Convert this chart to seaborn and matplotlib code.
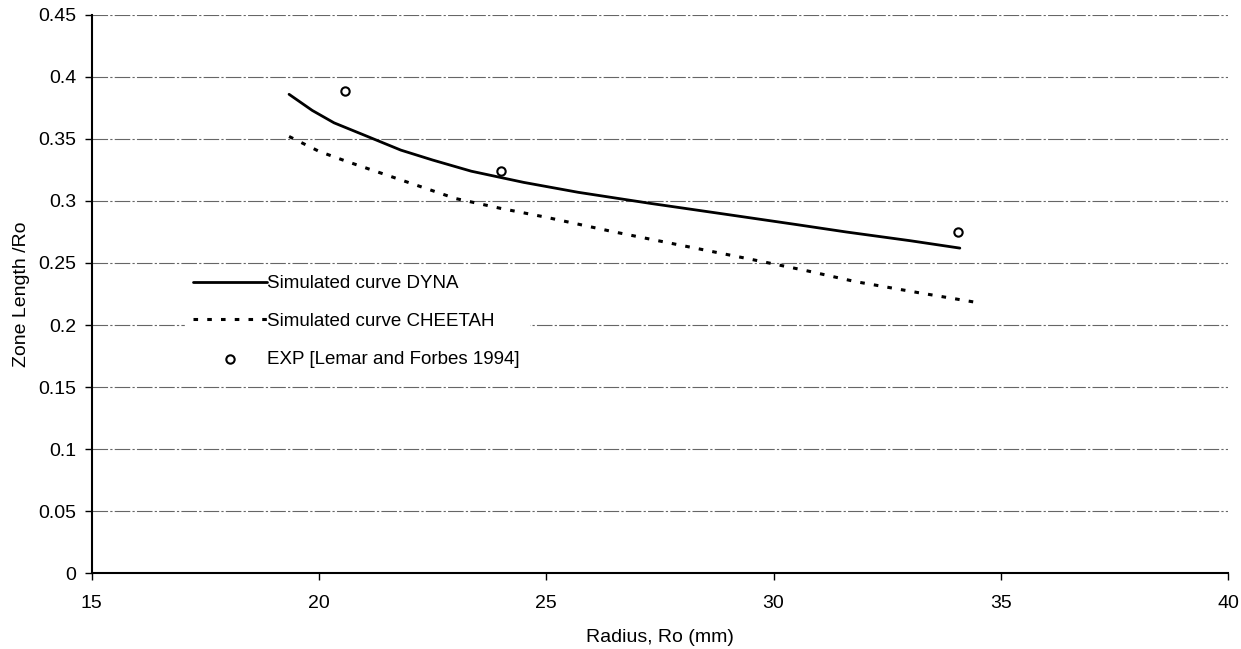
import matplotlib
matplotlib.use("Agg")
import matplotlib.pyplot as plt
import seaborn as sns
import pandas as pd

# DYNA simulated curve
dyna_x = [19.34, 19.85, 20.33, 21.0, 21.8, 22.5, 23.35, 24.5, 25.7, 27.3, 29.0, 30.5, 31.6, 33.0, 34.1]
dyna_y = [0.386, 0.373, 0.363, 0.353, 0.341, 0.333, 0.324, 0.315, 0.307, 0.298, 0.289, 0.281, 0.275, 0.268, 0.262]

# CHEETAH simulated curve
chee_x = [19.34, 20.0, 20.6, 21.8, 23.0, 24.0, 24.98, 26.5, 28.0, 29.5, 30.7, 31.8, 33.2, 34.5]
chee_y = [0.352, 0.340, 0.332, 0.317, 0.302, 0.294, 0.287, 0.275, 0.264, 0.253, 0.244, 0.235, 0.226, 0.218]

# Experimental points
exp_x = [20.57, 24.01, 34.06]
exp_y = [0.389, 0.324, 0.275]

x_ticks = [15, 20, 25, 30, 35, 40]
y_ticks = [0, 0.05, 0.1, 0.15, 0.2, 0.25, 0.3, 0.35, 0.4, 0.45]
y_labels = ["0", "0.05", "0.1", "0.15", "0.2", "0.25", "0.3", "0.35", "0.4", "0.45"]

sns.set_theme(style="white")
plt.rcParams["font.family"] = ["Liberation Sans", "DejaVu Sans"]
plt.rcParams["text.color"] = "black"
plt.rcParams["axes.labelcolor"] = "black"
plt.rcParams["xtick.color"] = "black"
plt.rcParams["ytick.color"] = "black"

fig = plt.figure(figsize=(12.41, 6.49), dpi=100)
ax = fig.add_axes([0.074, 0.117, 0.9155, 0.860])

df_d = pd.DataFrame({"x": dyna_x, "y": dyna_y})
df_c = pd.DataFrame({"x": chee_x, "y": chee_y})
df_e = pd.DataFrame({"x": exp_x, "y": exp_y})

for yv in y_ticks[1:]:
    ax.axhline(yv, color="#666666", lw=0.8, ls=(0, (14, 2, 2, 2)), zorder=0)

sns.lineplot(data=df_d, x="x", y="y", ax=ax, color="black", lw=2.0,
             label="Simulated curve DYNA", sort=False)
sns.lineplot(data=df_c, x="x", y="y", ax=ax, color="black", lw=2.2,
             ls=(0, (1.5, 3)), label="Simulated curve CHEETAH", sort=False)
sns.scatterplot(data=df_e, x="x", y="y", ax=ax, marker="o", s=36,
                facecolor="white", edgecolor="black", linewidth=1.5,
                label="EXP [Lemar and Forbes 1994]", zorder=5)

ax.set_xlim(15, 40)
ax.set_ylim(0, 0.45)
ax.set_xticks(x_ticks)
ax.set_xticklabels([str(v) for v in x_ticks])
ax.set_yticks(y_ticks)
ax.set_yticklabels(y_labels)
ax.tick_params(axis="both", labelsize=14, direction="out", length=5, width=1,
               color="black", bottom=True, left=True, pad=6)
ax.tick_params(axis="x", pad=11)

for s in ["top", "right"]:
    ax.spines[s].set_visible(False)
for s in ["left", "bottom"]:
    ax.spines[s].set_color("black")
    ax.spines[s].set_linewidth(1.5)

ax.set_xlabel("Radius, Ro (mm)", fontsize=14, labelpad=12)
ax.set_ylabel("Zone Length /Ro", fontsize=14, labelpad=6)

leg = ax.legend(loc="upper left", bbox_to_anchor=(0.082, 0.549), frameon=True,
                fontsize=13.5, handlelength=3.9, handletextpad=0.05,
                labelspacing=1.1, borderpad=0.45, borderaxespad=0)
leg.get_frame().set_facecolor("white")
leg.get_frame().set_edgecolor("white")
leg.get_frame().set_alpha(1)
leg.get_frame().set_boxstyle("square", pad=0)
for t in leg.get_texts():
    t.set_color("black")

fig.savefig("out.png", dpi=100, facecolor="white")
